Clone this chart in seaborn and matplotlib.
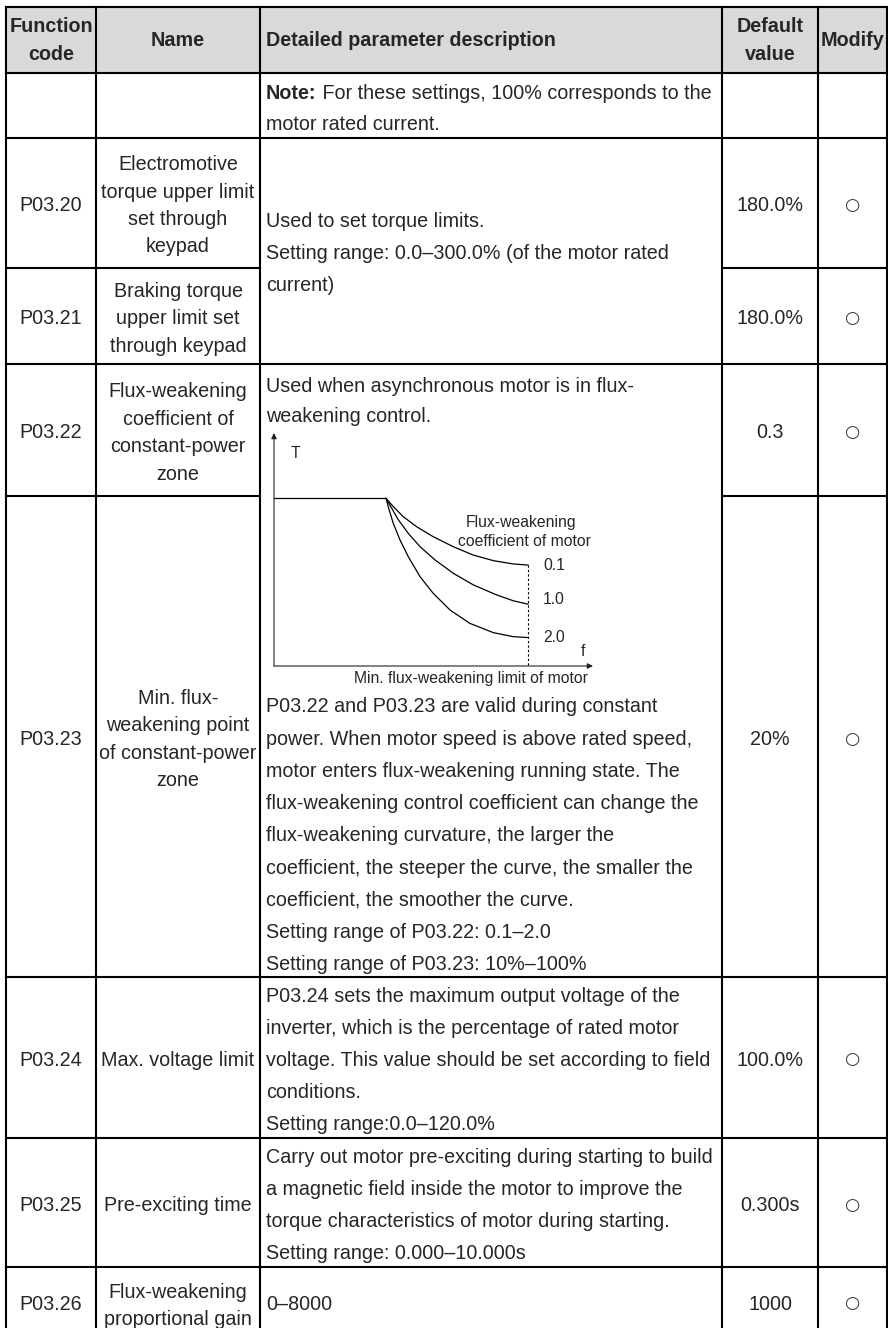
import matplotlib
matplotlib.use("Agg")
import matplotlib.pyplot as plt
import pandas as pd
import seaborn as sns

sns.set_style("white")
plt.rcParams['font.family'] = ['Liberation Sans', 'DejaVu Sans']

# table content
header = ["Function\ncode", "Name", "Detailed parameter description", "Default\nvalue", "Modify"]
codes = ["", "P03.20", "P03.21", "P03.22", "P03.23", "P03.24", "P03.25", "P03.26"]
names = [
    [],
    ["Electromotive", "torque upper limit", "set through", "keypad"],
    ["Braking torque", "upper limit set", "through keypad"],
    ["Flux-weakening", "coefficient of", "constant-power", "zone"],
    ["Min. flux-", "weakening point", "of constant-power", "zone"],
    ["Max. voltage limit"],
    ["Pre-exciting time"],
    ["Flux-weakening", "proportional gain"],
]
defaults = ["", "180.0%", "180.0%", "0.3", "20%", "100.0%", "0.300s", "1000"]
modify = ["", "○", "○", "○", "○", "○", "○", "○"]

note_rest = " For these settings, 100% corresponds to the"
desc_note = ["motor rated current."]
desc_torque = ["Used to set torque limits.",
               "Setting range: 0.0–300.0% (of the motor rated",
               "current)"]
desc_flux_top = ["Used when asynchronous motor is in flux-",
                 "weakening control."]
desc_flux_bottom = ["P03.22 and P03.23 are valid during constant",
                    "power. When motor speed is above rated speed,",
                    "motor enters flux-weakening running state. The",
                    "flux-weakening control coefficient can change the",
                    "flux-weakening curvature, the larger the",
                    "coefficient, the steeper the curve, the smaller the",
                    "coefficient, the smoother the curve.",
                    "Setting range of P03.22: 0.1–2.0",
                    "Setting range of P03.23: 10%–100%"]
desc_voltage = ["P03.24 sets the maximum output voltage of the",
                "inverter, which is the percentage of rated motor",
                "voltage. This value should be set according to field",
                "conditions.",
                "Setting range:0.0–120.0%"]
desc_preexc = ["Carry out motor pre-exciting during starting to build",
               "a magnetic field inside the motor to improve the",
               "torque characteristics of motor during starting.",
               "Setting range: 0.000–10.000s"]
desc_gain = ["0–8000"]

# torque curve (f, T in % of axis length)
flat_f = [0, 35.1]
flat_T = [72.0, 72.0]
c01_f = [35.1, 37.4, 40.5, 44.7, 49.9, 56.2, 62.5, 68.8, 75.0, 79.7]
c01_T = [72.0, 68.4, 64.1, 59.8, 55.5, 51.2, 47.6, 45.2, 43.8, 43.3]
c10_f = [35.1, 36.9, 39.0, 42.1, 45.8, 50.5, 56.2, 62.5, 69.8, 75.0, 79.7]
c10_T = [72.0, 67.7, 62.7, 56.9, 51.2, 45.5, 39.8, 34.8, 30.5, 28.0, 26.5]
c20_f = [35.1, 36.1, 37.4, 39.5, 42.1, 45.8, 49.9, 55.2, 61.4, 68.8, 75.0, 79.7]
c20_T = [72.0, 67.0, 61.2, 54.1, 46.9, 38.3, 31.2, 24.0, 18.3, 14.3, 12.6, 12.2]
coef_labels = ["0.1", "1.0", "2.0"]

# layout (pixels)
W, H = 888, 1328
col_x = [6, 96, 260, 722, 818, 887]
row_y = [7, 73, 137.5, 268, 364, 496, 977, 1138, 1267, 1400]
FS = 14.2
SP_NAME = 27.5
SP_DESC = 32.2
LW = 1.5

fig = plt.figure(figsize=(W / 100, H / 100), dpi=100)
ax = fig.add_axes([0, 0, 1, 1])
ax.set_xlim(0, W)
ax.set_ylim(H, 0)
ax.axis("off")

# header background
ax.fill_between([col_x[0], col_x[-1]], row_y[0], row_y[1], color="#d9d9d9", lw=0)


def put(x, yc, lines, ha="center", sp=SP_NAME, bold=False, size=FS, **kw):
    n = len(lines)
    out = []
    for i, s in enumerate(lines):
        y = yc + (i - (n - 1) / 2) * sp
        out.append(ax.text(x, y + 6.5, s, ha=ha, va="baseline", fontsize=size,
                           fontweight="bold" if bold else "normal", **kw))
    return out


# header texts
hc = (row_y[0] + row_y[1]) / 2 - 1
put((col_x[0] + col_x[1]) / 2, hc, header[0].split("\n"), bold=True, sp=28)
put((col_x[1] + col_x[2]) / 2, hc, [header[1]], bold=True)
put(col_x[2] + 6, hc, [header[2]], ha="left", bold=True)
put((col_x[3] + col_x[4]) / 2, hc, header[3].split("\n"), bold=True, sp=28)
put((col_x[4] + col_x[5]) / 2, hc, [header[4]], bold=True)

# body rows
for i in range(len(codes)):
    top, bot = row_y[i + 1], row_y[i + 2]
    yc = (top + bot) / 2 + 2
    if i == len(codes) - 1:
        yc = 1303
    put((col_x[0] + col_x[1]) / 2, yc, [codes[i]])
    if i == len(codes) - 1:
        put((col_x[1] + col_x[2]) / 2, 1305, names[i])
    else:
        put((col_x[1] + col_x[2]) / 2, yc, names[i])
    put((col_x[3] + col_x[4]) / 2, yc, [defaults[i]])
    if modify[i]:
        ax.text((col_x[4] + col_x[5]) / 2, yc, modify[i], ha="center", va="center",
                fontsize=12.5, family="DejaVu Sans", color="#333333")

# descriptions
dx = col_x[2] + 6
t = ax.text(dx, 92.5 + 6.5, "Note:", ha="left", va="baseline", fontsize=FS, fontweight="bold")
fig.canvas.draw()
bb = t.get_window_extent()
ax.text(bb.x1, 92.5 + 6.5, note_rest, ha="left", va="baseline", fontsize=FS)
put(dx, 123.5, desc_note, ha="left")
put(dx, (row_y[2] + row_y[4]) / 2 + 2, desc_torque, ha="left", sp=SP_DESC)
put(dx, 400.5, desc_flux_top, ha="left", sp=31)
put(dx, 706 + (len(desc_flux_bottom) - 1) / 2 * SP_DESC, desc_flux_bottom, ha="left", sp=SP_DESC)
put(dx, (row_y[6] + row_y[7]) / 2 + 2, desc_voltage, ha="left", sp=SP_DESC)
put(dx, (row_y[7] + row_y[8]) / 2 + 2, desc_preexc, ha="left", sp=SP_DESC)
put(dx, 1303, desc_gain, ha="left")

# grid lines
for x in col_x:
    ax.plot([x, x], [row_y[0], H + 5], color="black", lw=LW, solid_capstyle="projecting")
for j, y in enumerate(row_y[:-1]):
    if y in (268, 496):
        ax.plot([col_x[0], col_x[2]], [y, y], color="black", lw=LW)
        ax.plot([col_x[3], col_x[5]], [y, y], color="black", lw=LW)
    else:
        ax.plot([col_x[0], col_x[5]], [y, y], color="black", lw=LW, solid_capstyle="projecting")

# small torque / frequency figure
x0, x1, ytop, ybot = 274, 593, 433, 666
ax2 = fig.add_axes([x0 / W, 1 - ybot / H, (x1 - x0) / W, (ybot - ytop) / H])
ax2.set_xlim(0, 100)
ax2.set_ylim(0, 100)
ax2.axis("off")

df = pd.concat([
    pd.DataFrame({"f": flat_f, "T": flat_T, "curve": "flat"}),
    pd.DataFrame({"f": c01_f, "T": c01_T, "curve": "0.1"}),
    pd.DataFrame({"f": c10_f, "T": c10_T, "curve": "1.0"}),
    pd.DataFrame({"f": c20_f, "T": c20_T, "curve": "2.0"}),
])
sns.lineplot(data=df, x="f", y="T", units="curve", estimator=None, sort=False,
             color="black", lw=0.9, ax=ax2, legend=False)
ax2.plot([c01_f[-1], c01_f[-1]], [c01_T[-1], 0], color="black", lw=0.8,
         ls=(0, (2, 2)))

arrow = dict(arrowstyle="-|>", color="#222222", lw=0.8, mutation_scale=8,
             shrinkA=0, shrinkB=0)
ax2.annotate("", xy=(0, 100), xytext=(0, 0), arrowprops=arrow, annotation_clip=False)
ax2.annotate("", xy=(100, 0), xytext=(0, 0), arrowprops=arrow, annotation_clip=False)

SF = 11.3
ax2.text(6.6, 91.4, "T", fontsize=SF, ha="center", va="center")
ax2.text(96.9, 6.4, "f", fontsize=SF, ha="center", va="center")
ax2.text(77.5, 61.8, "Flux-weakening", fontsize=SF, ha="center", va="center")
ax2.text(78.5, 53.6, "coefficient of motor", fontsize=SF, ha="center", va="center")
for lab, yv in zip(coef_labels, [c01_T[-1], c10_T[-1] + 2, c20_T[-1]]):
    ax2.text(84.3, yv, lab, fontsize=SF, ha="left", va="center")
ax2.text(61.8, -5.2, "Min. flux-weakening limit of motor", fontsize=SF,
         ha="center", va="center", clip_on=False)

fig.savefig("out.png", dpi=100)
